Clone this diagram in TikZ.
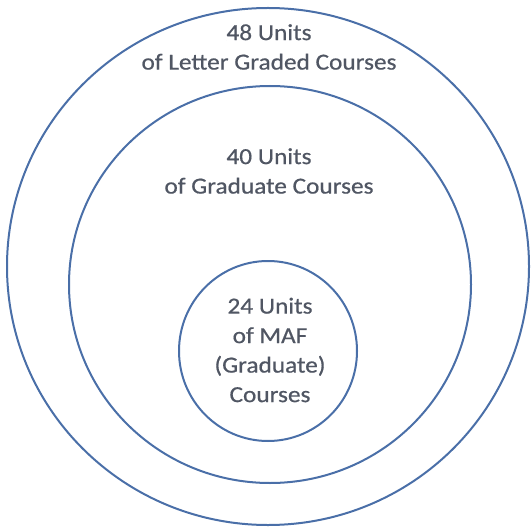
\documentclass[tikz,border=0pt]{standalone}
\usepackage{fontspec}
\setmainfont{Carlito}[FakeStretch=1.1,FakeBold=0.6]
\definecolor{ringblue}{HTML}{4A6FA8}
\definecolor{txtgray}{HTML}{505663}
\begin{document}
\begin{tikzpicture}[x=1pt,y=-1pt,
  ring/.style={draw=ringblue,line width=2pt},
  lbl/.style={text=txtgray,align=center,inner sep=0pt,font=\fontsize{23}{29.5}\selectfont}]
\useasboundingbox (0,0) rectangle (532,529);
\draw[ring] (268,266.5) ellipse [x radius=261,y radius=258.5];
\draw[ring] (270,284.5) ellipse [x radius=201,y radius=198.5];
\draw[ring] (268,351) ellipse [x radius=89,y radius=90];
\node[lbl] (outer) at (269,47) {48 Units\\of Letter Graded Courses};
\node[lbl] (middle) at (269,171) {40 Units\\of Graduate Courses};
\node[lbl] (inner) at (270,350) {24 Units\\of MAF\\(Graduate)\\Courses};
\end{tikzpicture}
\end{document}
